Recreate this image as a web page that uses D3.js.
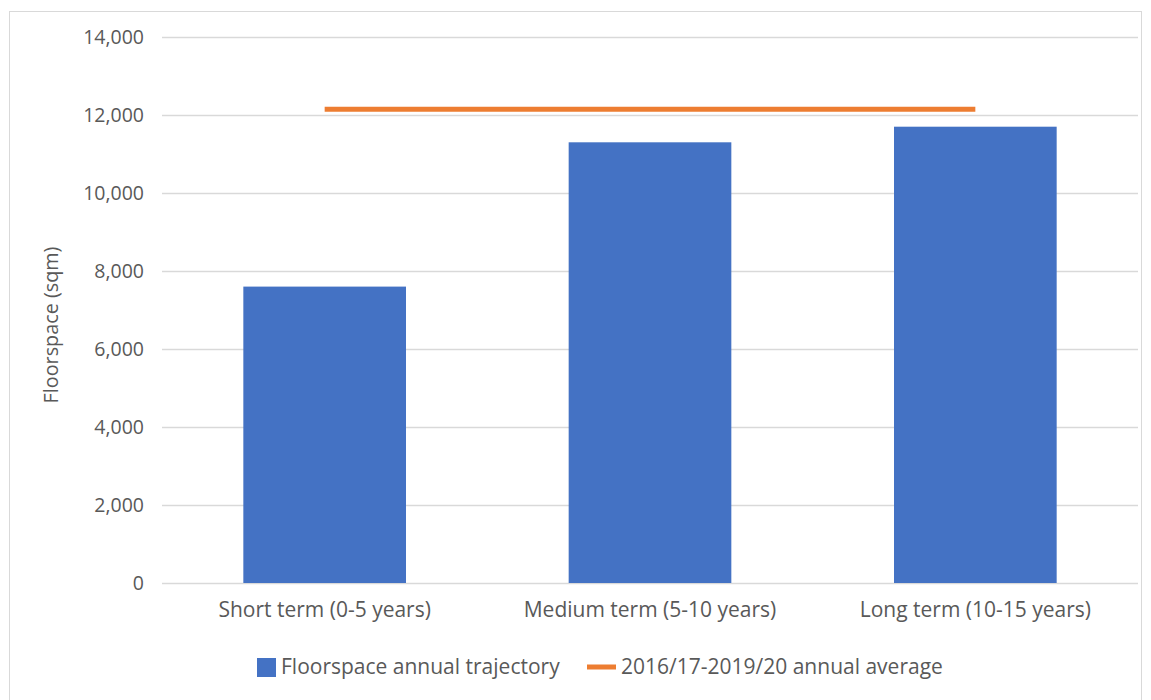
<!DOCTYPE html>
<html>
<head>
<meta charset="utf-8">
<script src="https://cdn.jsdelivr.net/npm/d3@7"></script>
<style>
  body { margin: 0; background: #fff; }
  svg { display: block; }
  svg text { font-family: "Open Sans", sans-serif; fill: #595959; }
</style>
</head>
<body>
<svg width="1151" height="700"></svg>
<script>
var categories = ["Short term (0-5 years)", "Medium term (5-10 years)", "Long term (10-15 years)"];
var trajectory = [7600, 11300, 11700];
var average = [12150, 12150, 12150];
var yTicks = [0, 2000, 4000, 6000, 8000, 10000, 12000, 14000];
var seriesNames = ["Floorspace annual trajectory", "2016/17-2019/20 annual average"];

var svg = d3.select("svg");
var plotLeft = 162, plotRight = 1138, plotTop = 37, plotBottom = 583;

// outer chart border
svg.append("rect")
  .attr("x", 9.5).attr("y", 11.5)
  .attr("width", 1132).attr("height", 700)
  .attr("fill", "none").attr("stroke", "#d9d9d9");

var x = d3.scaleBand().domain(categories).range([plotLeft, plotRight])
  .paddingInner(0.5).paddingOuter(0.25);
var y = d3.scaleLinear().domain([0, 14000]).range([plotBottom, plotTop]);

// gridlines
svg.append("g").selectAll("line").data(yTicks).enter().append("line")
  .attr("x1", plotLeft).attr("x2", plotRight)
  .attr("y1", function(d) { return y(d) + 0.5; })
  .attr("y2", function(d) { return y(d) + 0.5; })
  .attr("stroke", "#d9d9d9").attr("stroke-width", 1.5);

// y axis labels
var yAxis = svg.append("g")
  .attr("transform", "translate(" + (plotLeft - 15) + ",0)")
  .call(d3.axisLeft(y).tickValues(yTicks).tickSize(0).tickFormat(d3.format(",")));
yAxis.attr("font-family", null).attr("font-size", null);
yAxis.select(".domain").remove();
yAxis.selectAll("text").attr("font-size", 19.5).attr("fill", "#595959");

// bars
svg.append("g").selectAll("rect").data(trajectory).enter().append("rect")
  .attr("x", function(d, i) { return x(categories[i]); })
  .attr("y", function(d) { return y(d); })
  .attr("width", x.bandwidth())
  .attr("height", function(d) { return y(0) - y(d); })
  .attr("fill", "#4472c4");

// average line
var line = d3.line()
  .x(function(d, i) { return x(categories[i]) + x.bandwidth() / 2; })
  .y(function(d) { return y(d); });
svg.append("path").datum(average)
  .attr("d", line)
  .attr("fill", "none").attr("stroke", "#ed7d31").attr("stroke-width", 5);

// x axis labels
var xAxis = svg.append("g")
  .attr("transform", "translate(0," + plotBottom + ")")
  .call(d3.axisBottom(x).tickSize(0).tickPadding(19));
xAxis.attr("font-family", null).attr("font-size", null);
xAxis.select(".domain").remove();
xAxis.selectAll("text").attr("font-size", 21).attr("fill", "#595959");

// y axis title
svg.append("text")
  .attr("transform", "translate(58,325) rotate(-90)")
  .attr("text-anchor", "middle")
  .attr("font-size", 19.8)
  .text("Floorspace (sqm)");

// legend
var legend = svg.append("g");
legend.append("rect").attr("x", 257).attr("y", 658).attr("width", 19).attr("height", 19).attr("fill", "#4472c4");
legend.append("text").attr("x", 281).attr("y", 674).attr("font-size", 21).text(seriesNames[0]);
legend.append("line").attr("x1", 587).attr("x2", 616).attr("y1", 667).attr("y2", 667)
  .attr("stroke", "#ed7d31").attr("stroke-width", 5);
legend.append("text").attr("x", 621).attr("y", 674).attr("font-size", 21).text(seriesNames[1]);
</script>
</body>
</html>
